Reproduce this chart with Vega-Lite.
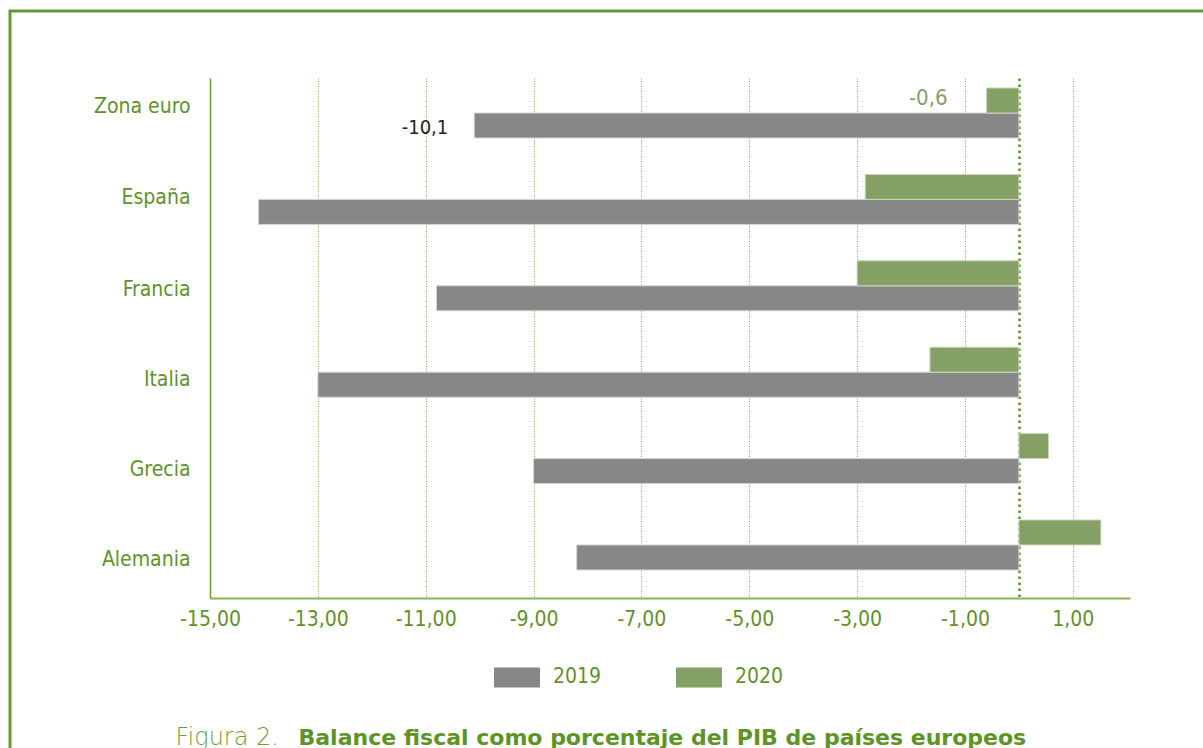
{
  "$schema": "https://vega.github.io/schema/vega-lite/v6.json",
  "autosize": "none",
  "width": 1205,
  "height": 749,
  "padding": {"left": 10, "top": 11, "right": 0, "bottom": 0},
  "background": "white",
  "config": {
    "locale": {"number": {"decimal": ",", "thousands": ".", "grouping": [3], "currency": ["", " €"], "minus": "-"}},
    "view": {"stroke": "#669a2e", "strokeWidth": 3, "fill": "white"},
    "font": "'DejaVu Sans Condensed', Roboto, sans-serif"
  },
  "data": {
    "values": [
      {"country": "Zona euro", "year": "2019", "value": -10.1},
      {"country": "Zona euro", "year": "2020", "value": -0.6},
      {"country": "España", "year": "2019", "value": -14.1},
      {"country": "España", "year": "2020", "value": -2.85},
      {"country": "Francia", "year": "2019", "value": -10.8},
      {"country": "Francia", "year": "2020", "value": -3.0},
      {"country": "Italia", "year": "2019", "value": -13.0},
      {"country": "Italia", "year": "2020", "value": -1.65},
      {"country": "Grecia", "year": "2019", "value": -9.0},
      {"country": "Grecia", "year": "2020", "value": 0.55},
      {"country": "Alemania", "year": "2019", "value": -8.2},
      {"country": "Alemania", "year": "2020", "value": 1.52}
    ]
  },
  "encoding": {
    "y": {
      "field": "country",
      "type": "nominal",
      "sort": ["Zona euro", "España", "Francia", "Italia", "Grecia", "Alemania"],
      "scale": {"range": [67, 587], "paddingInner": 0.421, "paddingOuter": 0.22, "align": 0.263},
      "axis": {
        "title": "Figura 2.",
        "titleAngle": 0,
        "titleX": -35,
        "titleY": 733,
        "titleAlign": "left",
        "titleBaseline": "alphabetic",
        "titleFont": "DejaVu Sans",
        "titleFontWeight": 200,
        "titleFontSize": 24,
        "titleColor": "#6f9f3c",
        "offset": -200,
        "domainColor": "#6a9a2e",
        "domainWidth": 1.5,
        "ticks": false,
        "grid": false,
        "labelPadding": 20,
        "labelFont": "'DejaVu Sans Condensed', Roboto, sans-serif",
        "labelFontSize": 21,
        "labelColor": "#5e9426",
        "labelOffset": {"condition": [
          {"test": "datum.value === 'Zona euro'", "value": -6},
          {"test": "datum.value === 'España'", "value": -1},
          {"test": "datum.value === 'Francia'", "value": 4},
          {"test": "datum.value === 'Italia'", "value": 8},
          {"test": "datum.value === 'Grecia'", "value": 11}
        ], "value": 15}
      }
    },
    "x": {
      "field": "value",
      "type": "quantitative",
      "scale": {"domain": [-15, 2.06], "range": [200, 1120], "nice": false, "zero": false},
      "axis": {
        "orient": "top",
        "title": "Balance fiscal como porcentaje del PIB de países europeos",
        "titleX": 288,
        "titleY": 146,
        "titleAlign": "left",
        "titleBaseline": "alphabetic",
        "titleFont": "DejaVu Sans",
        "titleFontWeight": "bold",
        "titleFontSize": 22,
        "titleColor": "#5e9426",
        "offset": -587,
        "values": [-15, -13, -11, -9, -7, -5, -3, -1, 0, 1],
        "format": ".2f",
        "labelExpr": "datum.value === 0 ? '' : datum.label",
        "labelFlush": false,
        "labelPadding": -10,
        "labelBaseline": "top",
        "labelFont": "'DejaVu Sans Condensed', Roboto, sans-serif",
        "labelFontSize": 21,
        "labelColor": "#5e9426",
        "ticks": false,
        "domainColor": "#86b356",
        "domainWidth": 2,
        "grid": true,
        "gridColor": {"condition": {"test": "datum.value === 0", "value": "#5e9426"}, "value": "#7fb04a"},
        "gridWidth": {"condition": {"test": "datum.value === 0", "value": 2.5}, "value": 1},
        "gridDash": {"condition": {"test": "datum.value === 0", "value": [2.5, 3.5]}, "value": [1, 1.5]},
        "gridOpacity": 1
      }
    },
    "yOffset": {"field": "year", "type": "nominal", "scale": {"domain": ["2020", "2019"]}}
  },
  "layer": [
    {
      "mark": {"type": "bar", "strokeWidth": 1},
      "encoding": {
        "color": {
          "field": "year",
          "type": "nominal",
          "scale": {"domain": ["2019", "2020"], "range": ["#878787", "#84a064"]},
          "legend": {
            "orient": "none",
            "legendX": 484,
            "legendY": 643,
            "direction": "horizontal",
            "title": null,
            "symbolType": "M-1,-0.435H1V0.435H-1Z",
            "symbolSize": 2116,
            "symbolStrokeWidth": 0,
            "symbolOpacity": 1,
            "labelFont": "'DejaVu Sans Condensed', Roboto, sans-serif",
            "labelFontSize": 21,
            "labelColor": "#5e9426",
            "labelOffset": 13,
            "columnPadding": 74
          }
        },
        "stroke": {
          "field": "year",
          "type": "nominal",
          "scale": {"domain": ["2019", "2020"], "range": ["#d4d4d4", "#c9d9b8"]},
          "legend": null
        }
      }
    },
    {
      "transform": [{"filter": "datum.country === 'Zona euro' && datum.year === '2019'"}],
      "mark": {"type": "text", "align": "right", "baseline": "middle", "dx": -26, "dy": 2, "font": "'DejaVu Sans Condensed', Roboto, sans-serif", "fontSize": 20, "color": "#222222"},
      "encoding": {"text": {"field": "value", "type": "quantitative", "format": ".1f"}}
    },
    {
      "transform": [{"filter": "datum.country === 'Zona euro' && datum.year === '2020'"}],
      "mark": {"type": "text", "align": "right", "baseline": "middle", "dx": -39, "dy": -3, "font": "'DejaVu Sans Condensed', Roboto, sans-serif", "fontSize": 22, "color": "#84a064"},
      "encoding": {"text": {"field": "value", "type": "quantitative", "format": ".1f"}}
    }
  ]
}
